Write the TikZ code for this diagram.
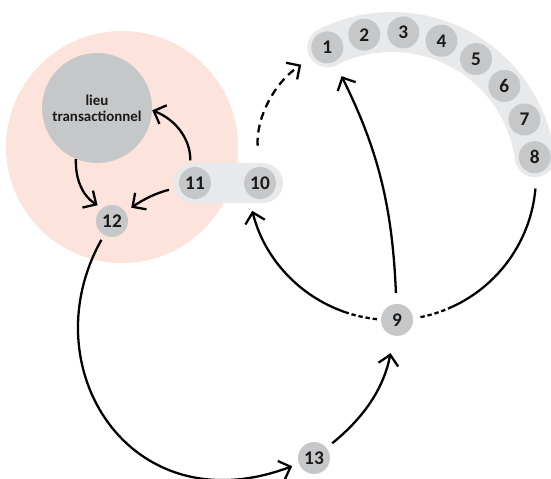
\documentclass[tikz,border=0pt]{standalone}
\usepackage{fontspec}
\setmainfont{Carlito}
\usetikzlibrary{arrows.meta}
\definecolor{pinkbg}{HTML}{FCE4DC}
\definecolor{nodegray}{HTML}{C6C7C9}
\definecolor{bandgray}{HTML}{E8E9EB}
\definecolor{ink}{HTML}{1A1A1A}

\begin{document}
\begin{tikzpicture}[x=0.02cm, y=0.02cm,
  num/.style={circle, fill=nodegray, minimum size=0.64cm, inner sep=0pt,
    text=ink, font=\bfseries\fontsize{11}{13}\selectfont},
  arr/.style={line width=1.3pt, -{Straight Barb[length=2mm,width=4mm]}},
  dotline/.style={line width=1.3pt, dash pattern=on 2.5pt off 1.6pt}]
  \useasboundingbox (0,0) rectangle (551,479);
  \coordinate (c) at (392,303);
  % backgrounds
  \fill[pinkbg] (122,332) circle[radius=116];
  \fill[bandgray, rounded corners=0.4cm] (173,276) rectangle (283,316);
  \draw[bandgray, line width=0.8cm, line cap=round]
    ([shift={(116.7:144)}]c) arc[start angle=116.7, end angle=7.5, radius=144];
  % nodes
  \node[circle, fill=nodegray, minimum size=2.2cm, inner sep=0pt, align=center,
    text=ink, font=\bfseries\fontsize{8.5}{9}\selectfont] (lieu) at (97,371)
    {lieu\\transactionnel};
  \foreach \i in {1,...,8}
    \node[num] (n\i) at ([shift={({116.7-15.6*(\i-1)}:144)}]c) {\i};
  \node[num] (n9)  at ([shift={(-88:144)}]c) {9};
  \node[num] (n10) at (260,296) {10};
  \node[num] (n11) at (195,296) {11};
  \node[num] (n12) at (112,258) {12};
  \node[num] (n13) at (314,21)  {13};
  % big circle through 9
  \draw[line width=1.3pt] ([shift={(-5:144)}]c) arc[start angle=-5, end angle=-65.4, radius=144];
  \draw[dotline] ([shift={(-65.4:144)}]c) arc[start angle=-65.4, end angle=-79, radius=144];
  \draw[dotline] ([shift={(-96:144)}]c) arc[start angle=-96, end angle=-109, radius=144];
  \draw[arr] ([shift={(-109:144)}]c) arc[start angle=-109, end angle=-166, radius=144];
  % arrows
  \draw[arr, shorten <=6pt, shorten >=9pt] (n9) to[bend right=12] (n1);
  \draw[arr, dash pattern=on 4.5pt off 3pt, shorten <=12pt, shorten >=8.5pt]
    (n10) to[bend left=30] (n1);
  \draw[arr, shorten <=4pt] (n11) to[bend right=35] (lieu);
  \draw[arr, shorten <=6pt, shorten >=4pt] (n11) to[bend right=10] (n12);
  \draw[arr, shorten >=3pt] (lieu) to[bend right=30] (n12);
  \draw[arr, shorten <=3pt, shorten >=4pt] (n12) .. controls (30,112) and (130,-48) .. (n13);
  \draw[arr, shorten <=4pt, shorten >=10pt] (n13) to[bend right=20] (n9);
\end{tikzpicture}
\end{document}
